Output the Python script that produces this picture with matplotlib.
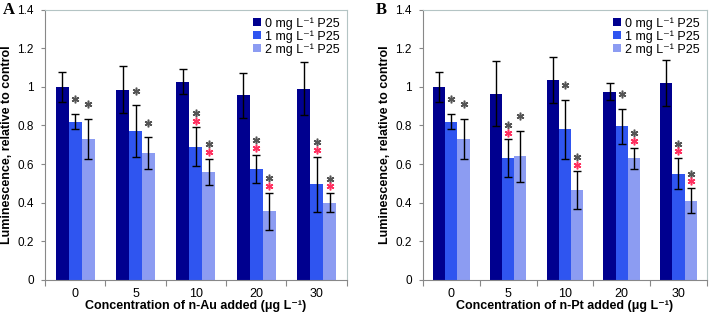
import matplotlib

matplotlib.use("Agg")
import matplotlib.pyplot as plt
import numpy as np

plt.rcParams["font.family"] = ["Liberation Sans", "DejaVu Sans"]

CONC = ["0", "5", "10", "20", "30"]
SERIES = ["0 mg L\u207b\u00b9 P25", "1 mg L\u207b\u00b9 P25", "2 mg L\u207b\u00b9 P25"]
COLORS = ["#00008f", "#2f55f0", "#8c9cf2"]

# panel A: n-Au
a_mean = [
    [1.00, 0.985, 1.025, 0.955, 0.99],
    [0.82, 0.77, 0.69, 0.575, 0.495],
    [0.73, 0.655, 0.56, 0.355, 0.40],
]
a_err = [
    [0.078, 0.12, 0.065, 0.115, 0.137],
    [0.041, 0.135, 0.10, 0.072, 0.143],
    [0.105, 0.083, 0.068, 0.097, 0.05],
]
# significance marks per bar: g = vs control (grey), r = vs no P25 (red)
a_sig = [
    ["", "", "", "", ""],
    ["g", "g", "gr", "gr", "gr"],
    ["g", "g", "gr", "gr", "gr"],
]

# panel B: n-Pt
b_mean = [
    [1.00, 0.965, 1.035, 0.975, 1.02],
    [0.82, 0.63, 0.78, 0.795, 0.55],
    [0.73, 0.64, 0.465, 0.63, 0.41],
]
b_err = [
    [0.078, 0.17, 0.118, 0.043, 0.118],
    [0.041, 0.097, 0.153, 0.092, 0.08],
    [0.105, 0.133, 0.097, 0.055, 0.065],
]
b_sig = [
    ["", "", "", "", ""],
    ["g", "gr", "g", "g", "gr"],
    ["g", "g", "gr", "gr", "gr"],
]


def draw_panel(ax, means, errs, sigs, metal):
    x = np.arange(len(CONC))
    w = 0.215
    for i, (m, e, s) in enumerate(zip(means, errs, sigs)):
        xs = x + (i - 1) * w
        ax.bar(xs, m, w, color=COLORS[i], label=SERIES[i], zorder=2)
        ax.errorbar(xs, m, yerr=e, fmt="none", ecolor="black", elinewidth=1,
                    capsize=3, capthick=1, zorder=3)
        for xi, mi, ei, si in zip(xs, m, e, s):
            top = mi + ei
            if "g" in si:
                ax.plot(xi, top + 0.075, marker=(6, 2, 0), ms=5.5, mew=1.1,
                        color="#555555", zorder=4)
            if "r" in si:
                ax.plot(xi, top + 0.035, marker=(6, 2, 0), ms=5.5, mew=1.1,
                        color="#ff3060", zorder=4)

    ax.set_xlim(-0.5, len(CONC) - 0.5)
    ax.set_ylim(0, 1.4)
    ax.set_yticks(np.arange(0, 1.41, 0.2))
    ax.set_yticklabels(["0", "0.2", "0.4", "0.6", "0.8", "1", "1.2", "1.4"])
    ax.set_xticks(np.arange(-0.5, len(CONC)), labels=[""] * (len(CONC) + 1))
    ax.set_xticks(x, labels=CONC, minor=True)
    ax.tick_params(axis="x", which="major", length=4, color="#888888")
    ax.tick_params(axis="x", which="minor", length=0, pad=6)
    ax.tick_params(axis="y", length=3, color="#888888", pad=5)
    ax.tick_params(labelsize=8.5)
    ax.tick_params(axis="x", which="minor", labelsize=9)
    for side in ("left", "bottom"):
        ax.spines[side].set_color("#888888")
    for side in ("top", "right"):
        ax.spines[side].set_color("#b4c4c4")

    ax.set_xlabel(f"Concentration of n-{metal} added (\u03bcg L\u207b\u00b9)",
                  fontsize=9, fontweight="bold", labelpad=0)
    ax.set_ylabel("Luminescence, relative to control", fontsize=9,
                  fontweight="bold", labelpad=3)
    ax.legend(loc="upper right", frameon=False, fontsize=9, handlelength=0.6,
              handleheight=0.6, handletextpad=0.3, labelspacing=0.05,
              borderaxespad=0.2)


fig = plt.figure(figsize=(7.09, 3.17), dpi=100)
ax_a = fig.add_axes([0.0635, 0.117, 0.4255, 0.853])
ax_b = fig.add_axes([0.5966, 0.117, 0.4004, 0.853])
draw_panel(ax_a, a_mean, a_err, a_sig, "Au")
draw_panel(ax_b, b_mean, b_err, b_sig, "Pt")
for xpos, letter in ((0.004, "A"), (0.53, "B")):
    fig.text(xpos, 0.97, letter, fontsize=12, fontweight="bold",
             family="Liberation Serif", va="center")
fig.savefig("out.png", dpi=100)
